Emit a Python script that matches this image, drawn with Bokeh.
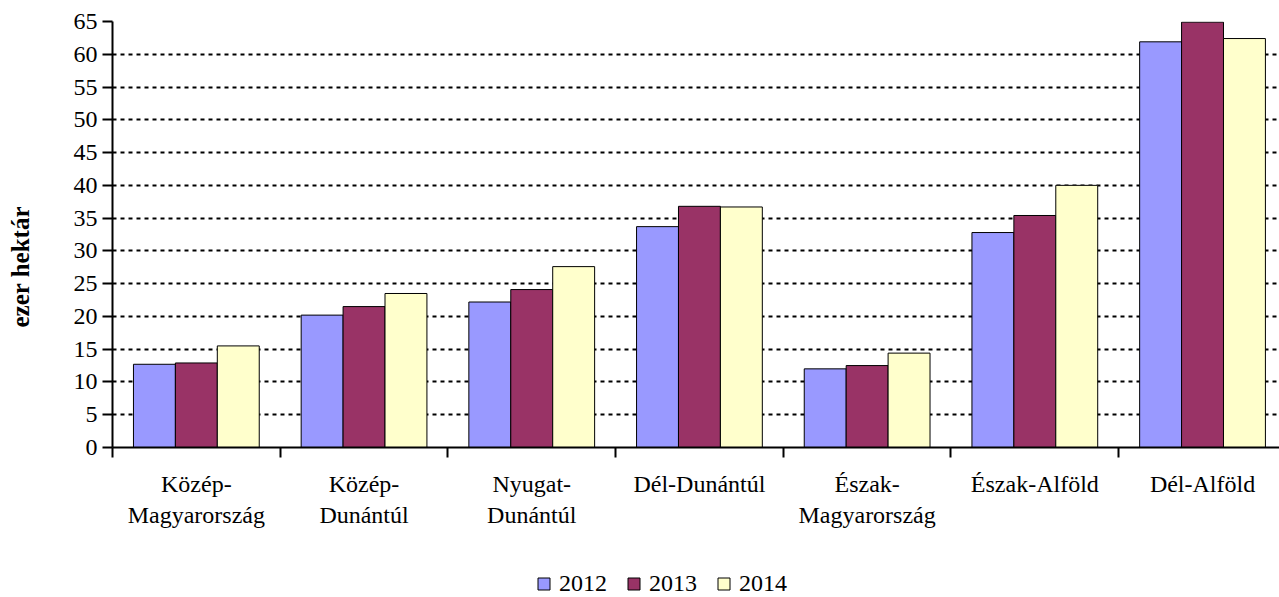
from bokeh.plotting import figure
from bokeh.layouts import column
from bokeh.models import (ColumnDataSource, Range1d, FixedTicker, Legend,
                          LegendItem, Title, LinearAxis)
from bokeh.transform import dodge
from bokeh.embed import file_html
from bokeh.resources import INLINE

# ---------------- data ----------------
categories = ["Közép-Magyarország", "Közép-Dunántúl", "Nyugat-Dunántúl",
              "Dél-Dunántúl", "Észak-Magyarország", "Észak-Alföld", "Dél-Alföld"]
tick_labels = ["Közép-\nMagyarország", "Közép-\nDunántúl", "Nyugat-\nDunántúl",
               "Dél-Dunántúl", "Észak-\nMagyarország", "Észak-Alföld", "Dél-Alföld"]
years = ["2012", "2013", "2014"]
v2012 = [12.7, 20.2, 22.2, 33.7, 12.0, 32.8, 61.9]
v2013 = [12.9, 21.5, 24.1, 36.8, 12.5, 35.4, 64.9]
v2014 = [15.5, 23.5, 27.6, 36.7, 14.4, 40.0, 62.4]
y_ticks = list(range(0, 70, 5))
y_title = "ezer hektár"

# ---------------- styles ----------------
colors = ["#9999FF", "#993366", "#FFFFCC"]
FONT = "Liberation Serif"

centers = [i + 0.5 for i in range(len(categories))]
bounds = list(range(len(categories) + 1))
src = ColumnDataSource(dict(x=centers, cat=categories,
                            y2012=v2012, y2013=v2013, y2014=v2014))

x_range = Range1d(0, 6.959)
main = figure(width=1279, height=560, output_backend="svg", toolbar_location=None,
              x_range=x_range, y_range=Range1d(0, 65),
              min_border_left=112, min_border_right=0, min_border_top=21,
              min_border_bottom=113)
main.outline_line_color = None
main.background_fill_color = "white"
main.border_fill_color = "white"

bw = 0.25
for k, (yr, col) in enumerate(zip(years, colors)):
    main.vbar(x=dodge("x", (k - 1) * bw, range=x_range), top="y" + yr,
              width=bw, source=src, fill_color=col, line_color="black",
              line_width=1)

# grid
main.xgrid.visible = False
main.ygrid.ticker = FixedTicker(ticks=y_ticks)
main.ygrid.grid_line_color = "black"
main.ygrid.grid_line_dash = "4 4"
main.ygrid.grid_line_width = 2

# y axis
ya = main.yaxis[0]
ya.ticker = FixedTicker(ticks=y_ticks)
ya.axis_line_width = 2
ya.axis_line_color = "black"
ya.major_tick_line_width = 2
ya.major_tick_line_color = "black"
ya.major_tick_out = 10
ya.major_tick_in = 0
ya.minor_tick_out = 0
ya.minor_tick_in = 0
ya.major_label_standoff = 5
ya.major_label_text_font = FONT
ya.major_label_text_font_size = "24px"
ya.major_label_text_color = "black"

# blank spacer axis between the tick labels and the axis title
spacer = LinearAxis(ticker=FixedTicker(ticks=[0]), major_label_overrides={0: ""},
                    axis_line_color=None, major_tick_line_color="white",
                    minor_tick_line_color=None, major_tick_out=37,
                    major_tick_in=0, minor_tick_out=0, minor_tick_in=0,
                    major_label_standoff=5, major_label_text_font_size="10px")
main.add_layout(spacer, "left")

# x axis
xa = main.xaxis[0]
xa.ticker = FixedTicker(ticks=centers, minor_ticks=bounds)
xa.major_label_overrides = {c: t for c, t in zip(centers, tick_labels)}
xa.axis_line_width = 2
xa.axis_line_color = "black"
xa.major_tick_out = 0
xa.major_tick_in = 0
xa.minor_tick_out = 10
xa.minor_tick_in = 0
xa.minor_tick_line_width = 2
xa.minor_tick_line_color = "black"
xa.major_label_standoff = 13
xa.major_label_text_font = FONT
xa.major_label_text_font_size = "24px"
xa.major_label_text_color = "black"
xa.major_label_text_line_height = 1.2

# y title
main.add_layout(Title(text=y_title, align="left", offset=120, standoff=0,
                      text_font=FONT, text_font_style="bold",
                      text_font_size="25px", text_color="black"), "left")

# legend strip (its bars fall far outside its own y range; only the legend shows)
leg = figure(width=1279, height=37, output_backend="svg", toolbar_location=None,
             x_axis_type=None, y_axis_type=None, x_range=x_range,
             y_range=Range1d(1000, 1001), min_border_left=112, min_border_right=0,
             min_border_top=0, min_border_bottom=0)
leg.outline_line_color = None
leg.grid.visible = False
leg_renderers = [leg.vbar(x=dodge("x", (k - 1) * bw, range=x_range),
                          top="y" + yr, width=bw, source=src,
                          fill_color=col, line_color="black", line_width=1)
                 for k, (yr, col) in enumerate(zip(years, colors))]
legend = Legend(items=[LegendItem(label=yr, renderers=[r])
                       for yr, r in zip(years, leg_renderers)],
                orientation="horizontal", location=(424, 0),
                glyph_width=15, glyph_height=15, label_standoff=8,
                spacing=19, padding=0, margin=0, border_line_color=None,
                background_fill_alpha=0, label_text_font=FONT,
                label_text_font_size="24px", label_text_color="black")
leg.add_layout(legend)

p = column(main, leg, spacing=0)
open("out.html", "w").write(file_html(p, INLINE))
